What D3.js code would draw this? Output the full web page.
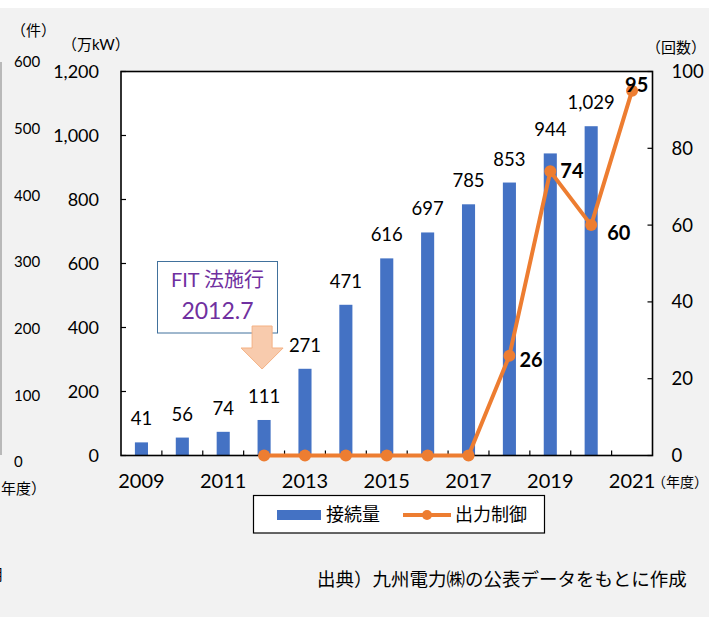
<!DOCTYPE html>
<html>
<head>
<meta charset="utf-8">
<script src="https://cdn.jsdelivr.net/npm/d3@7"></script>
<style>
  html, body { margin: 0; padding: 0; background: #ffffff; }
  svg { display: block; }
  text { font-family: Lato, "Noto Sans CJK JP", sans-serif; fill: #000; }
</style>
</head>
<body>
<svg id="chart" width="717" height="617"></svg>
<script>
// 接続量 (万kW) by fiscal year
const barYears = ["2009","2010","2011","2012","2013","2014","2015","2016","2017","2018","2019","2020"];
const barValues = [41, 56, 74, 111, 271, 471, 616, 697, 785, 853, 944, 1029];

// 出力制御 (回数) by fiscal year
const lineYears = ["2012","2013","2014","2015","2016","2017","2018","2019","2020","2021"];
const lineValues = [0, 0, 0, 0, 0, 0, 26, 74, 60, 95];
// which curtailment points carry a label
const lineLabelYears = ["2018","2019","2020","2021"];

const allYears = ["2009","2010","2011","2012","2013","2014","2015","2016","2017","2018","2019","2020","2021"];
const xTickLabels = ["2009","2011","2013","2015","2017","2019","2021"];
const leftTicks = [0, 200, 400, 600, 800, 1000, 1200];
const rightTicks = [0, 20, 40, 60, 80, 100];
// scale of the neighbouring panel that shows at the left edge
const sideTicks = [0, 100, 200, 300, 400, 500, 600];

const BLUE = "#4472c4", ORANGE = "#ed7d31", PURPLE = "#7030a0";

const svg = d3.select("#chart");

// grey page background
svg.append("rect").attr("x", 0).attr("y", 8).attr("width", 709).attr("height", 609).attr("fill", "#f2f2f2");

// plot area
const L = 121, R = 652.5, T = 71.5, B = 455.5;
const x = d3.scaleBand().domain(allYears).range([L, R]).padding(0);
const y = d3.scaleLinear().domain([0, 1200]).range([B, T]);
const y2 = d3.scaleLinear().domain([0, 100]).range([B, T]);
const cx = d => x(d) + x.bandwidth() / 2;
const barW = x.bandwidth() * 0.32;

svg.append("rect").attr("x", L).attr("y", T).attr("width", R - L).attr("height", B - T).attr("fill", "#fff");

// neighbouring panel remnant on the left edge
const ySide = d3.scaleLinear().domain([0, 600]).range([462, 62]);
svg.append("line").attr("x1", 1).attr("x2", 1).attr("y1", 62).attr("y2", 455)
  .attr("stroke", "#a6a6a6").attr("stroke-width", 1.5);
svg.append("g").selectAll("text").data(sideTicks).join("text")
  .attr("x", 14).attr("y", d => ySide(d)).attr("dy", "0.35em")
  .attr("font-size", 15).text(d => d);
svg.append("text").attr("x", 11).attr("y", 31).attr("dy", "0.35em").attr("font-size", 15).text("（件）");
svg.append("text").attr("x", 1).attr("y", 489).attr("dy", "0.35em").attr("font-size", 15).text("年度）");
svg.append("text").attr("x", -12).attr("y", 575).attr("dy", "0.35em").attr("font-size", 15).text("用");

// bars
svg.append("g").selectAll("rect").data(barYears.map((yr, i) => ({ yr, v: barValues[i] }))).join("rect")
  .attr("x", d => cx(d.yr) - barW / 2)
  .attr("y", d => y(d.v))
  .attr("width", barW)
  .attr("height", d => y(0) - y(d.v))
  .attr("fill", BLUE);

// bar value labels
svg.append("g").selectAll("text").data(barYears.map((yr, i) => ({ yr, v: barValues[i] }))).join("text")
  .attr("x", d => cx(d.yr))
  .attr("y", d => y(d.v) - 17)
  .attr("text-anchor", "middle")
  .attr("font-size", 18.5)
  .text(d => d3.format(",")(d.v));

// axes: left
const axisLeft = d3.axisLeft(y).tickValues(leftTicks).tickSize(0).tickPadding(22).tickFormat(d3.format(","));
const gl = svg.append("g").attr("transform", `translate(${L},0)`).call(axisLeft);
gl.select(".domain").remove();
gl.selectAll("text").attr("font-size", 18).attr("font-family", "Lato, sans-serif").attr("fill", "#000");
svg.append("g").selectAll("line").data(leftTicks).join("line")
  .attr("x1", L).attr("x2", L + 5).attr("y1", d => y(d)).attr("y2", d => y(d))
  .attr("stroke", "#000").attr("stroke-width", 1.2);

// axes: right
const axisRight = d3.axisRight(y2).tickValues(rightTicks).tickSize(0).tickPadding(19);
const gr = svg.append("g").attr("transform", `translate(${R},0)`).call(axisRight);
gr.select(".domain").remove();
gr.selectAll("text").attr("font-size", 18.5).attr("font-family", "Lato, sans-serif").attr("fill", "#000");
svg.append("g").selectAll("line").data(rightTicks).join("line")
  .attr("x1", R - 5).attr("x2", R).attr("y1", d => y2(d)).attr("y2", d => y2(d))
  .attr("stroke", "#000").attr("stroke-width", 1.2);

// axes: bottom (ticks between categories, labels on odd years)
const boundaries = allYears.slice(1).map(d => x(d));
svg.append("g").selectAll("line").data(boundaries).join("line")
  .attr("x1", d => d).attr("x2", d => d).attr("y1", B).attr("y2", B - 5)
  .attr("stroke", "#000").attr("stroke-width", 1.2);
const axisBottom = d3.axisBottom(x).tickValues(xTickLabels).tickSize(0).tickPadding(18);
const gb = svg.append("g").attr("transform", `translate(0,${B})`).call(axisBottom);
gb.select(".domain").remove();
gb.selectAll("text").attr("font-size", 20).attr("font-family", "Lato, sans-serif").attr("fill", "#000");

// plot frame
svg.append("rect").attr("x", L).attr("y", T).attr("width", R - L).attr("height", B - T)
  .attr("fill", "none").attr("stroke", "#000").attr("stroke-width", 1.6);

// axis units
svg.append("text").attr("x", 62).attr("y", 45).attr("dy", "0.35em").attr("font-size", 15).text("（万kW）");
svg.append("text").attr("x", 646).attr("y", 48).attr("dy", "0.35em").attr("font-size", 15).text("（回数）");
svg.append("text").attr("x", 652).attr("y", 482).attr("dy", "0.35em").attr("font-size", 14).text("（年度）");

// curtailment line
const linePts = lineYears.map((yr, i) => ({ yr, v: lineValues[i] }));
svg.append("path").datum(linePts)
  .attr("d", d3.line().x(d => cx(d.yr)).y(d => y2(d.v)))
  .attr("fill", "none").attr("stroke", ORANGE).attr("stroke-width", 4).attr("stroke-linejoin", "round");
svg.append("g").selectAll("circle").data(linePts).join("circle")
  .attr("cx", d => cx(d.yr)).attr("cy", d => y2(d.v)).attr("r", 6).attr("fill", ORANGE);

// curtailment labels
const labelOffset = { "2018": [10, 4], "2019": [10, 0], "2020": [16, 8], "2021": [-7, -6] };
svg.append("g").selectAll("text").data(linePts.filter(d => lineLabelYears.includes(d.yr))).join("text")
  .attr("x", d => cx(d.yr) + labelOffset[d.yr][0])
  .attr("y", d => y2(d.v) + labelOffset[d.yr][1])
  .attr("dy", "0.35em")
  .attr("font-size", 20).attr("font-weight", "bold")
  .text(d => d.v);

// FIT annotation
const ann = svg.append("g");
ann.append("rect").attr("x", 157.5).attr("y", 261.5).attr("width", 120).attr("height", 71.5)
  .attr("fill", "#fff").attr("stroke", "#41719c").attr("stroke-width", 1);
ann.append("text").attr("x", 217.5).attr("y", 280).attr("dy", "0.35em").attr("text-anchor", "middle")
  .attr("font-size", 20).style("fill", PURPLE).text("FIT 法施行");
ann.append("text").attr("x", 217.5).attr("y", 311).attr("dy", "0.35em").attr("text-anchor", "middle")
  .attr("font-size", 23).style("fill", PURPLE).text("2012.7");
const ax = cx("2012") - 2;
ann.append("path")
  .attr("d", `M${ax - 10},326 L${ax + 10},326 L${ax + 10},348 L${ax + 21},348 L${ax},369 L${ax - 21},348 L${ax - 10},348 Z`)
  .attr("fill", "#f8cbad").attr("stroke", "#f4b183").attr("stroke-width", 1);

// legend
const lg = svg.append("g");
lg.append("rect").attr("x", 253.5).attr("y", 495.5).attr("width", 291).attr("height", 37.5)
  .attr("fill", "#fff").attr("stroke", "#000").attr("stroke-width", 1.2);
lg.append("rect").attr("x", 277).attr("y", 510).attr("width", 44).attr("height", 10).attr("fill", BLUE);
lg.append("text").attr("x", 326).attr("y", 515).attr("dy", "0.35em").attr("font-size", 18).text("接続量");
lg.append("line").attr("x1", 403).attr("x2", 451).attr("y1", 515).attr("y2", 515)
  .attr("stroke", ORANGE).attr("stroke-width", 4);
lg.append("circle").attr("cx", 427).attr("cy", 515).attr("r", 5).attr("fill", ORANGE);
lg.append("text").attr("x", 455).attr("y", 515).attr("dy", "0.35em").attr("font-size", 18).text("出力制御");

// source note
svg.append("text").attr("x", 317).attr("y", 580).attr("dy", "0.35em").attr("font-size", 18.5)
  .text("出典）九州電力㈱の公表データをもとに作成");
</script>
</body>
</html>
